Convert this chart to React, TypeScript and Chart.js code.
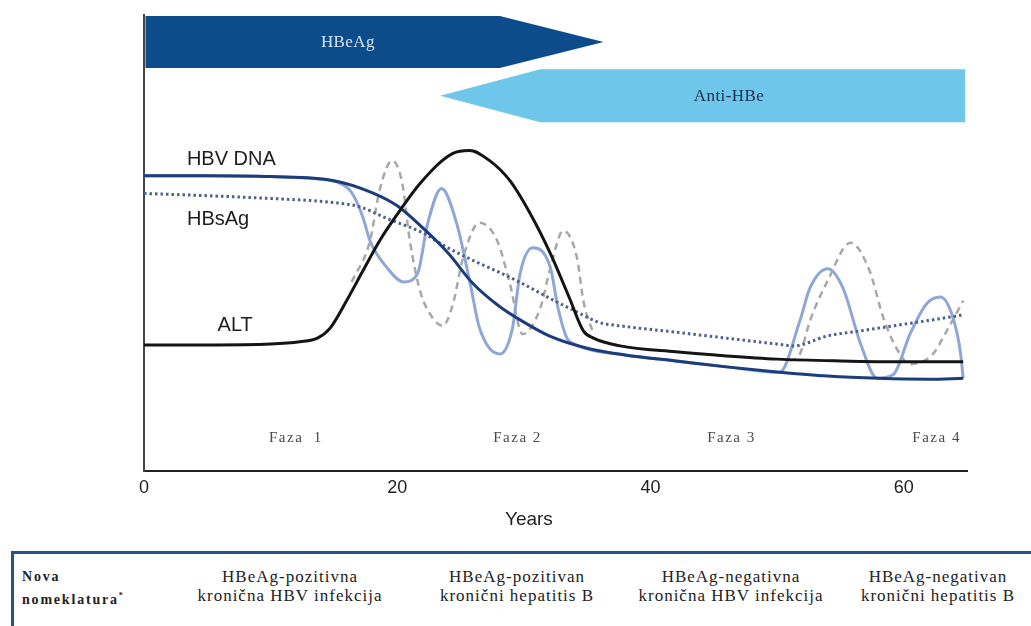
import React, { useEffect, useRef } from "react";
import { Chart, registerables } from "chart.js";

Chart.register(...registerables);

// ---------- data ----------
const X_TICKS = [0, 20, 40, 60];
const X_MAX = 65;
const AXIS_TITLE = "Years";

const HBV_DNA_YEARS = [0, 5, 10, 15, 18, 20, 22, 24, 26, 28, 30, 32, 35, 38, 42, 46, 50, 54, 58, 62, 64.7];
const HBV_DNA_VALUES = [64.8, 64.8, 64.6, 63.7, 61.1, 58.2, 53.4, 47.9, 41.1, 36.3, 32.7, 29.7, 27.0, 25.5, 24.2, 22.9, 21.8, 20.9, 20.4, 20.2, 20.4];

const ALT_YEARS = [0, 5, 10, 12.3, 13.7, 14.7, 16.0, 17.3, 18.6, 20.2, 21.8, 24.4, 25.7, 27.3, 28.9, 30.5, 32.1, 33.6, 34.7, 35.5, 37.6, 42, 46, 50, 55, 60, 64.7];
const ALT_VALUES = [27.7, 27.7, 27.9, 28.4, 29.2, 31.4, 37.4, 44.0, 50.5, 57.1, 63.1, 69.7, 70.3, 68.1, 63.7, 56.5, 47.7, 38.0, 30.8, 29.2, 27.5, 26.2, 25.3, 24.6, 24.2, 24.0, 24.0];

const HBSAG_YEARS = [0, 5, 10, 15, 17, 19.2, 22, 24, 26, 28, 30, 32, 34, 36, 37.6, 42, 46, 50, 51.3, 54, 56.6, 59.2, 61.8, 64.7];
const HBSAG_VALUES = [60.9, 60.4, 59.8, 58.9, 58.0, 55.4, 52.3, 49.0, 46.2, 43.7, 41.0, 38.0, 35.2, 32.6, 31.9, 30.5, 29.2, 27.9, 27.5, 29.7, 30.8, 31.9, 33.0, 34.3];

const FLARE_YEARS = [0, 5, 10, 14, 15.5, 16.4, 17.3, 17.85, 19.2, 20.5, 21.6, 22.4, 23.5, 24.7, 25.75, 26.5, 28.1, 29.1, 29.7, 30.7, 32.1, 32.7, 33.4, 34.0, 38, 42, 46, 50.2, 51.8, 52.6, 54.0, 55.2, 56.6, 57.9, 59.2, 60.5, 61.8, 62.9, 63.9, 64.5, 64.7];
const FLARE_VALUES = [64.8, 64.8, 64.6, 64.0, 63.1, 61.1, 55.6, 50.5, 44.6, 41.5, 43.3, 54.3, 62.0, 54.3, 41.3, 31.4, 25.7, 31.4, 43.3, 49.0, 44.6, 35.8, 29.2, 27.9, 25.5, 24.2, 22.9, 21.7, 33.0, 40.2, 44.4, 40.2, 27.9, 20.4, 21.3, 30.1, 36.7, 38.2, 33.6, 25.7, 20.4];

const ALT_FLARE_YEARS = [16.4, 17.85, 18.6, 19.6, 20.4, 21.0, 21.8, 22.8, 23.6, 24.4, 25.2, 26.5, 27.9, 28.9, 29.9, 31.3, 32.1, 33.1, 34.2, 34.7, 35.5, 43, 51.0, 51.8, 52.6, 54.0, 55.8, 57.3, 58.4, 59.7, 60.5, 62.3, 63.4, 64.7];
const ALT_FLARE_VALUES: (number | null)[] = [41.5, 50.5, 61.5, 68.1, 63.1, 50.5, 39.6, 33.6, 31.9, 36.7, 46.8, 54.5, 50.5, 41.1, 30.1, 35.8, 44.6, 52.7, 46.8, 37.4, 30.1, null, 24.2, 25.7, 33.0, 41.8, 50.1, 44.0, 33.6, 25.7, 23.5, 25.7, 30.8, 37.4];

const CURVE_LABELS = ["HBV DNA", "HBsAg", "ALT"];
const PHASE_LABELS = ["Faza  1", "Faza 2", "Faza 3", "Faza 4"];
const MARKER_LABELS = ["HBeAg", "Anti-HBe"];

const NOMENCLATURE_TITLE = ["Nova", "nomeklatura"];
const NOMENCLATURE_LINE1 = ["HBeAg-pozitivna", "HBeAg-pozitivan", "HBeAg-negativna", "HBeAg-negativan"];
const NOMENCLATURE_LINE2 = ["kronična HBV infekcija", "kronični hepatitis B", "kronična HBV infekcija", "kronični hepatitis B"];

// ---------- layout / style (not data) ----------
const CURVE_LABEL_POS = [
  [6.9, 68.4],
  [5.85, 55.2],
  [7.2, 31.9],
];
const PHASE_POS_X = [12.0, 29.5, 46.4, 62.6];
const PHASE_POS_Y = 7.25;

const ARROWS = [
  { base: 0.12, shoulder: 28.1, tip: 36.3, top: 99.8, bottom: 88.4, fill: "#0d4c8b", textColor: "#d6e4f3", textX: 16.1 },
  { base: 64.85, shoulder: 31.3, tip: 23.4, top: 88.1, bottom: 76.5, fill: "#6ec6ea", textColor: "#1b2d50", textX: 46.2 },
];

const SANS = "'Liberation Sans', Arial, sans-serif";
const SERIF = "'Liberation Serif', 'Times New Roman', serif";

const pts = (xs: number[], ys: (number | null)[]) => xs.map((x, i) => ({ x, y: ys[i] }));

const overlayPlugin = {
  id: "overlay",
  beforeDatasetsDraw(chart: any) {
    const { ctx, scales } = chart;
    const x = scales.x;
    const y = scales.y;
    ARROWS.forEach((a, i) => {
      const mid = (a.top + a.bottom) / 2;
      ctx.save();
      ctx.fillStyle = a.fill;
      ctx.beginPath();
      ctx.moveTo(x.getPixelForValue(a.base), y.getPixelForValue(a.top));
      ctx.lineTo(x.getPixelForValue(a.shoulder), y.getPixelForValue(a.top));
      ctx.lineTo(x.getPixelForValue(a.tip), y.getPixelForValue(mid));
      ctx.lineTo(x.getPixelForValue(a.shoulder), y.getPixelForValue(a.bottom));
      ctx.lineTo(x.getPixelForValue(a.base), y.getPixelForValue(a.bottom));
      ctx.closePath();
      ctx.fill();
      ctx.fillStyle = a.textColor;
      ctx.font = `17px ${SERIF}`;
      (ctx as any).letterSpacing = "0.4px";
      ctx.textAlign = "center";
      ctx.textBaseline = "middle";
      ctx.fillText(MARKER_LABELS[i], x.getPixelForValue(a.textX), y.getPixelForValue(mid) + 1);
      ctx.restore();
    });
  },
  afterDatasetsDraw(chart: any) {
    const { ctx, scales, chartArea } = chart;
    const x = scales.x;
    const y = scales.y;
    ctx.save();
    ctx.textAlign = "center";
    ctx.textBaseline = "middle";
    ctx.fillStyle = "#1e1e1e";
    ctx.font = `20px ${SANS}`;
    CURVE_LABELS.forEach((t, i) => {
      ctx.fillText(t, x.getPixelForValue(CURVE_LABEL_POS[i][0]), y.getPixelForValue(CURVE_LABEL_POS[i][1]));
    });
    ctx.fillStyle = "#4a4a4a";
    ctx.font = `15px ${SERIF}`;
    (ctx as any).letterSpacing = "1.5px";
    PHASE_LABELS.forEach((t, i) => {
      ctx.fillText(t, x.getPixelForValue(PHASE_POS_X[i]), y.getPixelForValue(PHASE_POS_Y));
    });
    (ctx as any).letterSpacing = "0px";
    ctx.fillStyle = "#222";
    ctx.font = `19px ${SANS}`;
    ctx.fillText(AXIS_TITLE, x.getPixelForValue(30.4), chartArea.bottom + 48);
    ctx.restore();
  },
};

export default function App() {
  const canvasRef = useRef<HTMLCanvasElement | null>(null);

  useEffect(() => {
    const canvas = canvasRef.current;
    if (!canvas) return;
    const common = { pointRadius: 0, pointHoverRadius: 0, fill: false, cubicInterpolationMode: "monotone" as const, spanGaps: false };
    const chart = new Chart(canvas, {
      type: "line",
      data: {
        datasets: [
          { ...common, label: "ALT", data: pts(ALT_YEARS, ALT_VALUES), borderColor: "#141414", borderWidth: 3, order: 0 },
          { ...common, label: "HBV DNA", data: pts(HBV_DNA_YEARS, HBV_DNA_VALUES), borderColor: "#1d3c7c", borderWidth: 3, order: 1 },
          { ...common, label: "HBsAg", data: pts(HBSAG_YEARS, HBSAG_VALUES), borderColor: "#4d6090", borderWidth: 3, borderDash: [2.5, 3], order: 2 },
          { ...common, label: "HBV DNA flares", data: pts(FLARE_YEARS, FLARE_VALUES), borderColor: "#8fa7d6", borderWidth: 3, order: 3 },
          { ...common, label: "ALT flares", data: pts(ALT_FLARE_YEARS, ALT_FLARE_VALUES), borderColor: "#a8a8a8", borderWidth: 2.5, borderDash: [7, 5], order: 4 },
        ],
      },
      options: {
        responsive: false,
        animation: false,
        events: [],
        layout: { padding: { left: 144, right: 64, top: 15, bottom: 35 } },
        plugins: { legend: { display: false }, tooltip: { enabled: false } },
        scales: {
          x: {
            type: "linear",
            min: 0,
            max: X_MAX,
            afterBuildTicks: (s: any) => {
              s.ticks = X_TICKS.map((v) => ({ value: v }));
            },
            grid: { display: false, drawTicks: false },
            border: { display: true, color: "#222", width: 2 },
            ticks: { color: "#222", font: { family: SANS, size: 18 }, padding: 6, maxRotation: 0, autoSkip: false },
          },
          y: {
            min: 0,
            max: 100,
            grid: { display: false, drawTicks: false },
            ticks: { display: false },
            border: { display: true, color: "#444", width: 2 },
          },
        },
      },
      plugins: [overlayPlugin],
    });
    return () => chart.destroy();
  }, []);

  const colCenters = [290, 517, 731, 938];
  const textStyle: React.CSSProperties = {
    position: "absolute",
    width: 260,
    textAlign: "center",
    fontFamily: SERIF,
    fontSize: 17,
    letterSpacing: "1px",
    color: "#222",
    lineHeight: "19px",
    whiteSpace: "nowrap",
  };

  return (
    <div style={{ position: "absolute", left: 0, top: 0, width: 1031, height: 626, overflow: "hidden", background: "#fff" }}>
      <canvas ref={canvasRef} width={1031} height={540} style={{ position: "absolute", left: 0, top: 0, width: 1031, height: 540 }} />
      <div
        style={{
          position: "absolute",
          left: 11,
          top: 551,
          width: 1040,
          height: 120,
          borderTop: "3px solid #24548a",
          borderLeft: "3px solid #24548a",
          boxSizing: "border-box",
        }}
      />
      <div
        style={{
          position: "absolute",
          left: 22,
          top: 567,
          fontFamily: SERIF,
          fontWeight: "bold",
          fontSize: 14,
          letterSpacing: "1.8px",
          lineHeight: "19px",
          color: "#222",
        }}
      >
        <div>{NOMENCLATURE_TITLE[0]}</div>
        <div>
          {NOMENCLATURE_TITLE[1]}
          <sup style={{ fontSize: 8 }}>*</sup>
        </div>
      </div>
      {colCenters.map((c, i) => (
        <div key={i} style={{ ...textStyle, left: c - 130, top: 567 }}>
          <div>{NOMENCLATURE_LINE1[i]}</div>
          <div>{NOMENCLATURE_LINE2[i]}</div>
        </div>
      ))}
    </div>
  );
}
